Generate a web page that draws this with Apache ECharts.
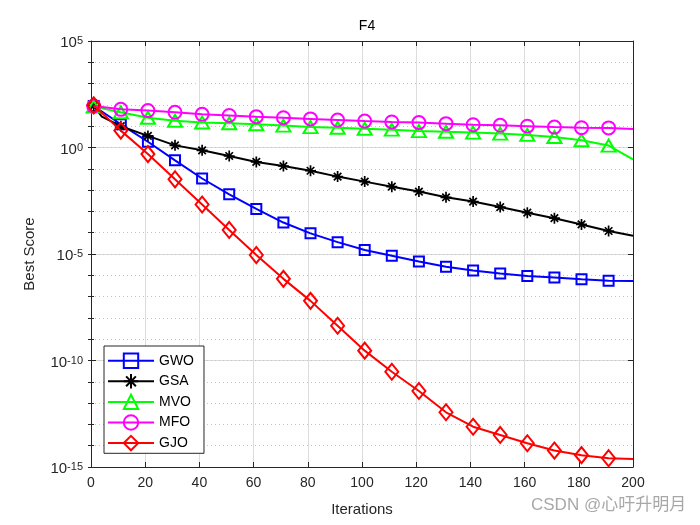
<!DOCTYPE html>
<html><head><meta charset="utf-8">
<script src="https://cdn.jsdelivr.net/npm/echarts@6/dist/echarts.min.js"></script>
<style>html,body{margin:0;padding:0;background:#fff}#c{width:700px;height:525px}</style>
</head><body><div id="c"></div><script>
const iters = [1,11,21,31,41,51,61,71,81,91,101,111,121,131,141,151,161,171,181,191,200];
const gsaIters = [1,4,11,21,31,41,51,61,71,81,91,101,111,121,131,141,151,161,171,181,191,200];
const gwo = [89,12.3,1.86,0.25,0.035,6.3e-3,1.3e-3,3.0e-4,9.3e-5,3.6e-5,1.55e-5,8.3e-6,4.4e-6,2.5e-6,1.66e-6,1.23e-6,9.3e-7,7.8e-7,6.5e-7,5.6e-7,5.4e-7];
const gsa = [89,28,10,3.5,1.26,0.74,0.40,0.21,0.135,0.081,0.043,0.025,0.0145,0.0085,0.0046,0.0029,0.0016,8.7e-4,4.8e-4,2.45e-4,1.2e-4,7.2e-5];
const mvo = [83,45,25,18,15,13.8,12.3,10.7,9.1,8.5,7.6,6.9,5.9,5.5,5.0,4.5,3.9,3.1,2.2,1.23,0.28];
const mfo = [89,62,54,45,36,32,28,25,22,19.5,17.4,15.8,14.8,13.2,11.7,11.0,10.0,9.1,8.5,8.3,7.4];
const gjo = [95,6.2,0.49,0.032,2.1e-3,1.35e-4,8.9e-6,6.8e-7,6.3e-8,4.3e-9,2.9e-10,2.95e-11,3.7e-12,3.7e-13,7.8e-14,3.2e-14,1.3e-14,5.9e-15,3.6e-15,2.6e-15,2.4e-15];
const names = ['GWO','GSA','MVO','MFO','GJO'];
const colors = ['#0000FF','#000000','#00FF00','#FF00FF','#FF0000'];
const xTicks = {min:0, max:200, interval:20};
const yRange = {min:1e-15, max:1e5};

const FF = 'Liberation Sans, Arial, Helvetica, sans-serif';
const axisCol = '#262626';
const asterisk = 'path://M0,5L10,5M5,0L5,10M1.6,1.6L8.4,8.4M8.4,1.6L1.6,8.4';

function mkData(xs, ys) {
  return xs.map((x, i) => {
    const d = {value: [x, ys[i]]};
    if ((x - 1) % 10 !== 0) d.symbol = 'none';
    return d;
  });
}
function mkSeries(idx, xs, ys, symbol, size) {
  const col = colors[idx];
  return {
    name: names[idx], type: 'line', xAxisIndex: 0, yAxisIndex: 0,
    data: mkData(xs, ys), symbol: symbol, symbolSize: size, showAllSymbol: true,
    lineStyle: {color: col, width: 2}, color: col,
    itemStyle: {color: idx === 1 ? col : 'rgba(0,0,0,0)', borderColor: col, borderWidth: idx === 1 ? 1.7 : 2},
    emphasis: {disabled: true}, animation: false, z: 3 + idx
  };
}

const chart = echarts.init(document.getElementById('c'), null, {renderer: 'canvas'});
const baseY = {
  type: 'log', logBase: 10, min: yRange.min, max: yRange.max, gridIndex: 0
};
chart.setOption({
  backgroundColor: '#fff',
  animation: false,
  textStyle: {fontFamily: FF},
  title: {text: 'F4', left: 362, top: 14, textAlign: 'center',
    textStyle: {fontSize: 14, fontWeight: 'normal', color: '#000', fontFamily: FF}},
  grid: {left: 91, right: 67, top: 41, bottom: 58, containLabel: false},
  xAxis: [
    Object.assign({type: 'value', position: 'bottom',
      axisLine: {show: true, onZero: false, lineStyle: {color: axisCol, width: 1}},
      axisTick: {show: true, inside: true, length: 5, lineStyle: {color: axisCol}},
      axisLabel: {fontSize: 14, color: axisCol, margin: 9, fontFamily: FF},
      splitLine: {show: true, lineStyle: {color: '#dcdcdc', width: 1}},
      name: 'Iterations', nameLocation: 'middle', nameGap: 35,
      nameTextStyle: {fontSize: 15, color: axisCol, fontFamily: FF}}, xTicks),
    Object.assign({type: 'value', position: 'top',
      axisLine: {show: true, onZero: false, lineStyle: {color: axisCol, width: 1}},
      axisTick: {show: true, inside: true, length: 5, lineStyle: {color: axisCol}},
      axisLabel: {show: false}, splitLine: {show: false}}, xTicks)
  ],
  yAxis: [
    Object.assign({}, baseY, {interval: 5, position: 'left',
      axisLine: {show: true, onZero: false, lineStyle: {color: axisCol, width: 1}},
      axisTick: {show: true, inside: true, length: 5, lineStyle: {color: axisCol}},
      splitLine: {show: true, lineStyle: {color: '#dcdcdc', width: 1}},
      axisLabel: {margin: 8, padding: [4, 0, 0, 0], formatter: function (v) {
          const e = Math.round(Math.log10(v));
          return '{b|10}{e|' + e + '}';
        },
        rich: {
          b: {fontSize: 15, lineHeight: 15, color: axisCol, fontFamily: FF, verticalAlign: 'bottom'},
          e: {fontSize: 11, lineHeight: 11, color: axisCol, fontFamily: FF, verticalAlign: 'top', padding: [0, 0, 8, 0]}
        }},
      name: 'Best Score', nameLocation: 'middle', nameGap: 54, nameRotate: 90,
      nameTextStyle: {fontSize: 15, color: axisCol, fontFamily: FF}}),
    Object.assign({}, baseY, {interval: 1, position: 'left',
      axisLine: {show: false}, axisLabel: {show: false},
      axisTick: {show: true, inside: true, length: 3, lineStyle: {color: axisCol}},
      splitLine: {show: true, lineStyle: {color: '#c4c4c4', width: 1, type: [1, 3]}}}),
    Object.assign({}, baseY, {interval: 5, position: 'right',
      axisLine: {show: true, onZero: false, lineStyle: {color: axisCol, width: 1}},
      axisTick: {show: true, inside: true, length: 5, lineStyle: {color: axisCol}},
      axisLabel: {show: false}, splitLine: {show: false}}),
    Object.assign({}, baseY, {interval: 1, position: 'right',
      axisLine: {show: false}, axisLabel: {show: false},
      axisTick: {show: true, inside: true, length: 3, lineStyle: {color: axisCol}},
      splitLine: {show: false}})
  ],
  legend: {
    orient: 'vertical', left: 104, top: 346,
    data: names,
    itemWidth: 46, itemHeight: 18, itemGap: 4.2,
    padding: [6.5, 10, 2, 3],
    backgroundColor: '#fff', borderColor: axisCol, borderWidth: 1,
    textStyle: {fontSize: 14, color: '#000', fontFamily: FF},
    selectedMode: false
  },
  series: [
    mkSeries(0, iters, gwo, 'rect', 10),
    mkSeries(1, gsaIters, gsa, asterisk, 11),
    mkSeries(2, iters, mvo, 'triangle', [14, 12]),
    mkSeries(3, iters, mfo, 'circle', 13),
    mkSeries(4, iters, gjo, 'diamond', [13, 16])
  ],
  graphic: [{
    type: 'text', left: 531, top: 497,
    style: {text: 'CSDN @心吁升明月', fontSize: 17, fill: '#a8a8a8',
      fontFamily: 'Liberation Sans, Noto Sans CJK SC, sans-serif'}
  }]
});
</script></body></html>
